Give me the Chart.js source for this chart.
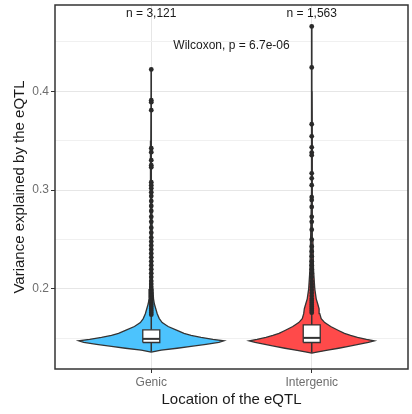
<!DOCTYPE html>
<html>
<head>
<meta charset="utf-8">
<script src="https://cdn.jsdelivr.net/npm/chart.js@4/dist/chart.umd.min.js"></script>
<style>
  html, body { margin: 0; padding: 0; background: #fff; }
  canvas { display: block; }
</style>
</head>
<body>
<canvas id="violin_chart" width="412" height="414"></canvas>
<script>
var categories = ["Genic", "Intergenic"];
var countLabels = ["n = 3,121", "n = 1,563"];
var testLabel = "Wilcoxon, p = 6.7e-06";
var yTickLabels = [0.2, 0.3, 0.4];
var yMinorGrid = [0.15, 0.25, 0.35, 0.45];

// violin outline: value level -> half width (in x units), null = outside the group's range
var violinLevels     = [0.135, 0.136, 0.138, 0.140, 0.142, 0.144, 0.146, 0.1475, 0.149, 0.151, 0.153, 0.155, 0.158, 0.162, 0.166, 0.170, 0.175, 0.180, 0.185, 0.190, 0.200, 0.220, 0.250, 0.300, 0.350, 0.400, 0.422, 0.466];
var genicWidths      = [null, 0, 0.062, 0.161, 0.248, 0.341, 0.421, 0.452, 0.384, 0.310, 0.248, 0.204, 0.161, 0.105, 0.068, 0.050, 0.037, 0.028, 0.019, 0.014, 0.010, 0.007, 0.005, 0.003, 0.002, 0.001, 0, null];
var intergenicWidths = [0, 0.031, 0.099, 0.167, 0.229, 0.291, 0.353, 0.390, 0.341, 0.285, 0.242, 0.204, 0.167, 0.118, 0.081, 0.059, 0.050, 0.046, 0.037, 0.028, 0.019, 0.011, 0.007, 0.004, 0.0025, 0.0015, 0.001, 0];

// box: q1, median, q3 ; whisker range: min, max
var genicBox = [0.1458, 0.1495, 0.1586];
var intergenicBox = [0.1458, 0.1505, 0.1636];
var genicRange = [0.1364, 0.4222];
var intergenicRange = [0.1354, 0.4657];

var genicOutliers = [0.4222, 0.391, 0.389, 0.381, 0.3424, 0.3384, 0.3303, 0.3253, 0.3232, 0.3081, 0.305, 0.302,
  0.298, 0.294, 0.289, 0.284, 0.279, 0.273, 0.268, 0.262, 0.257, 0.252, 0.248, 0.244, 0.240, 0.236, 0.232,
  0.228, 0.224, 0.220, 0.216, 0.212, 0.208, 0.205, 0.202, 0.199, 0.196, 0.193, 0.190, 0.188, 0.186, 0.184,
  0.182, 0.180, 0.178, 0.176, 0.174];
var intergenicOutliers = [0.4657, 0.4242, 0.3667, 0.3545, 0.3434, 0.338, 0.3354, 0.317, 0.312, 0.305, 0.293,
  0.290, 0.283, 0.273, 0.268, 0.260, 0.250, 0.243, 0.238, 0.233, 0.228, 0.224, 0.220, 0.216, 0.212, 0.208,
  0.205, 0.202, 0.199, 0.196, 0.193, 0.190, 0.188, 0.186, 0.184, 0.182, 0.180, 0.178, 0.176];

var countY = 0.4783;
var testY = 0.4463;
var boxHalf = 0.053;
var fontFamily = '"Liberation Sans", Arial, sans-serif';

function violinPoints(pos, widths) {
  var right = [], left = [];
  violinLevels.forEach(function(v, i) {
    if (widths[i] === null) return;
    right.push({x: pos + widths[i], y: v});
    left.unshift({x: pos - widths[i], y: v});
  });
  return right.concat(left);
}

function boxPoints(pos, box) {
  return [
    {x: pos - boxHalf, y: box[0]}, {x: pos + boxHalf, y: box[0]},
    {x: pos + boxHalf, y: box[2]}, {x: pos - boxHalf, y: box[2]},
    {x: pos - boxHalf, y: box[0]}
  ];
}

function groupDatasets(pos, widths, box, range, outliers, color) {
  return [{
    data: violinPoints(pos, widths), showLine: true, fill: 'shape', backgroundColor: color,
    borderColor: '#333333', borderWidth: 1.3, pointRadius: 0, order: 5
  }, {
    data: [{x: pos, y: range[0]}, {x: pos, y: range[1]}], showLine: true,
    borderColor: '#333333', borderWidth: 1.5, pointRadius: 0, order: 4
  }, {
    data: outliers.map(function(v) { return {x: pos, y: v}; }), showLine: false,
    backgroundColor: '#2a2a2a', borderWidth: 0, pointRadius: 2.4, order: 3
  }, {
    data: boxPoints(pos, box), showLine: true, fill: 'shape', backgroundColor: '#ffffff',
    borderColor: '#333333', borderWidth: 1.3, pointRadius: 0, order: 2
  }, {
    data: [{x: pos - boxHalf, y: box[1]}, {x: pos + boxHalf, y: box[1]}], showLine: true,
    borderColor: '#333333', borderWidth: 2, pointRadius: 0, order: 1
  }];
}

function isLabelled(v) {
  return yTickLabels.some(function(t) { return Math.abs(t - v) < 1e-9; });
}

var panelPlugin = {
  id: 'panel',
  afterDatasetsDraw: function(chart) {
    var ctx = chart.ctx, a = chart.chartArea, xs = chart.scales.x, ys = chart.scales.y;
    ctx.save();
    ctx.fillStyle = '#1a1a1a';
    ctx.font = '12px ' + fontFamily;
    ctx.textAlign = 'center';
    ctx.textBaseline = 'middle';
    countLabels.forEach(function(t, i) {
      ctx.fillText(t, xs.getPixelForValue(i + 1), ys.getPixelForValue(countY));
    });
    ctx.fillText(testLabel, xs.getPixelForValue(1.5), ys.getPixelForValue(testY));
    ctx.strokeStyle = '#333333';
    ctx.lineWidth = 1.5;
    ctx.strokeRect(a.left, a.top, a.width, a.height);
    ctx.restore();
  }
};

var datasets = groupDatasets(1, genicWidths, genicBox, genicRange, genicOutliers, '#4cc3fd')
  .concat(groupDatasets(2, intergenicWidths, intergenicBox, intergenicRange, intergenicOutliers, '#ff4a4a'));

new Chart(document.getElementById('violin_chart'), {
  type: 'scatter',
  data: { datasets: datasets },
  options: {
    responsive: false,
    animation: false,
    layout: { padding: { top: 5, right: 2, left: 0, bottom: 0 } },
    plugins: { legend: { display: false }, tooltip: { enabled: false } },
    scales: {
      x: {
        type: 'linear', min: 0.4, max: 2.6,
        afterBuildTicks: function(s) { s.ticks = [{value: 1}, {value: 2}]; },
        afterFit: function(s) { s.height = 45; s.paddingLeft = 0; s.paddingRight = 0; },
        ticks: {
          callback: function(v) { return categories[Math.round(v) - 1]; },
          color: '#6e6e6e', font: { family: fontFamily, size: 12 }, padding: 2, maxRotation: 0
        },
        grid: { color: '#e6e6e6', lineWidth: 1, tickLength: 4, tickColor: '#333333' },
        border: { display: false },
        title: { display: true, text: 'Location of the eQTL', color: '#1a1a1a',
          font: { family: fontFamily, size: 15 }, padding: { top: 0, bottom: 5 } }
      },
      y: {
        type: 'linear', min: 0.119, max: 0.4874,
        afterBuildTicks: function(s) {
          s.ticks = yMinorGrid.concat(yTickLabels).sort().map(function(v) { return {value: v}; });
        },
        afterFit: function(s) { s.width = 55; s.paddingTop = 0; s.paddingBottom = 0; },
        ticks: {
          callback: function(v) { return isLabelled(v) ? v.toFixed(1) : ''; },
          color: '#6e6e6e', font: { family: fontFamily, size: 12 }, padding: 2
        },
        grid: {
          color: function(c) { return isLabelled(c.tick.value) ? '#e6e6e6' : '#f0f0f0'; },
          lineWidth: 1, tickLength: 4,
          tickColor: function(c) { return isLabelled(c.tick.value) ? '#333333' : 'rgba(0,0,0,0)'; }
        },
        border: { display: false },
        title: { display: true, text: 'Variance explained by the eQTL', color: '#1a1a1a',
          font: { family: fontFamily, size: 15 }, padding: { top: 11, bottom: 0 } }
      }
    }
  },
  plugins: [panelPlugin]
});
</script>
</body>
</html>
